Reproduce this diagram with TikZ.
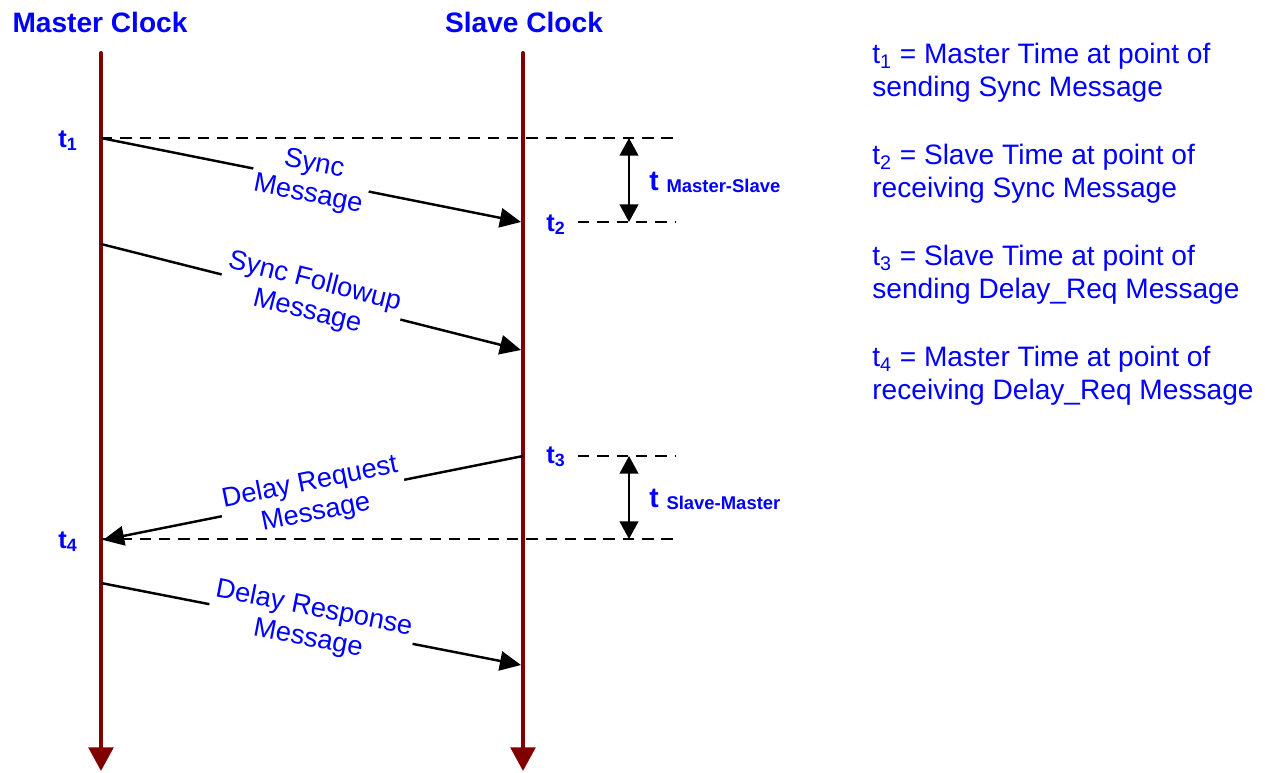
\documentclass[tikz,border=0pt]{standalone}
\usepackage{fontspec}
\setmainfont{Liberation Sans}
\usetikzlibrary{arrows.meta}
\definecolor{life}{HTML}{800000}
\definecolor{txtblue}{HTML}{0000FF}
\begin{document}
\begin{tikzpicture}[x=0.02cm,y=-0.02cm,
  lifeline/.style={draw=life,line width=2.3pt,-{Triangle[length=13.5pt,width=14pt]}},
  msg/.style={draw=black,line width=1.4pt,-{Triangle[length=12pt,width=11pt]}},
  msglabel/.style={fill=white,text=txtblue,font=\fontsize{15.5}{17.5}\selectfont,align=center,sloped,inner sep=2pt},
  guide/.style={draw=black,line width=0.8pt,dash pattern=on 6.5pt off 4.5pt},
  spanarrow/.style={draw=black,line width=1.4pt,{Triangle[length=10pt,width=10.5pt]}-{Triangle[length=10pt,width=10.5pt]}},
  title/.style={text=txtblue,font=\fontsize{16}{19}\selectfont\bfseries,anchor=base,inner sep=0},
  tlab/.style={text=txtblue,font=\fontsize{14.5}{16}\selectfont\bfseries,anchor=base,inner sep=0},
  spanlab/.style={text=txtblue,font=\fontsize{16}{19}\selectfont\bfseries,anchor=base west,inner sep=0},
  legend/.style={text=txtblue,font=\fontsize{16}{18.7}\selectfont,align=left,anchor=north west,inner sep=0}]
\useasboundingbox (0,0) rectangle (1265,772);

% titles
\node[title] (mtitle) at (100,32) {Master Clock};
\node[title] (stitle) at (524,32) {Slave Clock};

% lifeline coordinates
\coordinate (mtop) at (101,53);
\coordinate (mbot) at (101,771);
\coordinate (stop) at (523,53);
\coordinate (sbot) at (523,771);

\draw[lifeline,line cap=round] (mtop) -- (mbot);
\draw[lifeline,line cap=round] (stop) -- (sbot);

% message end points
\coordinate (p1) at (101,138);
\coordinate (p2) at (521,222);
\coordinate (f1) at (101,244);
\coordinate (f2) at (521,350);
\coordinate (r1) at (523,456);
\coordinate (r2) at (103,540);
\coordinate (d1) at (101,583);
\coordinate (d2) at (521,665);

\draw[msg] (p1) -- node[msglabel] (lsync) {Sync\\Message} (p2);
\draw[msg] (f1) -- node[msglabel] (lfollow) {Sync Followup\\Message} (f2);
\draw[msg] (r1) -- node[msglabel] (lreq) {Delay Request\\Message} (r2);
\draw[msg] (d1) -- node[msglabel] (lresp) {Delay Response\\Message} (d2);

% guide lines
\coordinate (g1a) at (101,138);  \coordinate (g1b) at (675,138);
\coordinate (g2a) at (578,222);  \coordinate (g2b) at (675,222);
\coordinate (g3a) at (578,456);  \coordinate (g3b) at (675,456);
\coordinate (g4a) at (101,539);  \coordinate (g4b) at (680,539);
\draw[guide] (g1a) -- (g1b);
\draw[guide] (g2a) -- (g2b);
\draw[guide] (g3a) -- (g3b);
\draw[guide] (g4a) -- (g4b);

% spans
\coordinate (sa1) at (629,138); \coordinate (sa2) at (629,222);
\coordinate (sb1) at (629,456); \coordinate (sb2) at (629,539);
\draw[spanarrow] (sa1) -- (sa2);
\draw[spanarrow] (sb1) -- (sb2);
\node[spanlab] (lms) at (649,190) {t \raisebox{-1.5pt}{\fontsize{10.5}{12}\selectfont Master-Slave}};
\node[spanlab] (lsm) at (649,507) {t \raisebox{-1.5pt}{\fontsize{10.5}{12}\selectfont Slave-Master}};

% time labels
\node[tlab] (t1) at (68,147) {t\textsubscript{1}};
\node[tlab] (t2) at (556,231) {t\textsubscript{2}};
\node[tlab] (t3) at (556,463) {t\textsubscript{3}};
\node[tlab] (t4) at (68,548) {t\textsubscript{4}};

% legend
\node[legend] (def1) at (872,43) {t\textsubscript{1} = Master Time at point of\\sending Sync Message};
\node[legend] (def2) at (872,144) {t\textsubscript{2} = Slave Time at point of\\receiving Sync Message};
\node[legend] (def3) at (872,245) {t\textsubscript{3} = Slave Time at point of\\sending Delay\_Req Message};
\node[legend] (def4) at (872,346) {t\textsubscript{4} = Master Time at point of\\receiving Delay\_Req Message};
\end{tikzpicture}
\end{document}
